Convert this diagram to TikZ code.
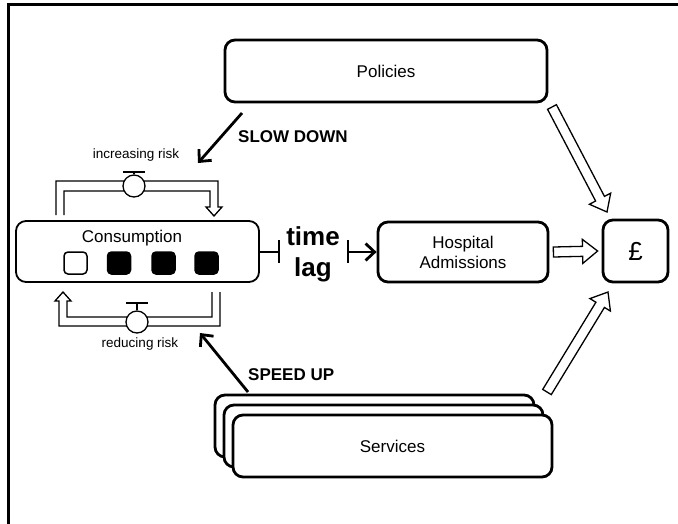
\documentclass[tikz,border=0pt]{standalone}
\usepackage{fontspec}
\setmainfont{Liberation Sans}
\usetikzlibrary{arrows.meta,calc}

\tikzset{
  box/.style={draw, line width=2.8pt, rounded corners=10pt, fill=white, inner sep=0pt},
  cell/.style={draw, line width=1.5pt, rounded corners=4pt, minimum width=23pt, minimum height=22pt, inner sep=0pt, fill=black},
  pipe/.style={draw, line width=1.3pt, line join=miter},
  valve/.style={circle, draw, fill=white, line width=1.3pt, minimum size=22pt, inner sep=0pt},
  hollow/.style={draw, line width=1.3pt, fill=white, line join=miter},
  push/.style={line width=2.8pt, -{Straight Barb[length=9pt,width=17pt]}},
  lbl/.style={font=\fontsize{17}{20}\selectfont, align=center},
  small/.style={font=\fontsize{13.5}{16}\selectfont, inner sep=0pt},
  loud/.style={font=\bfseries\fontsize{17}{20}\selectfont, inner sep=0pt},
}

% open block arrow from #1 to #2
\newcommand\hollowarrow[2]{%
  \path[hollow] let \p1=($(#2)-(#1)$), \n1={atan2(\y1,\x1)}, \n2={veclen(\x1,\y1)} in
    {[shift={(#1)}, rotate=\n1]
     (0,-5) -- (\n2-15,-5) -- (\n2-15,-12) -- (\n2,0) -- (\n2-15,12) -- (\n2-15,5) -- (0,5) -- cycle};
}

\begin{document}
\begin{tikzpicture}[x=1pt,y=-1pt]
\useasboundingbox (0,0) rectangle (678,523);

% frame
\draw[line width=2.6pt] (8.5,530) -- (8.5,4.5) -- (690,4.5);

% policies
\node[box, lbl, minimum width=322pt, minimum height=62pt] (pol) at (386,71) {Policies};

% consumption with its four units
\node[box, line width=1.8pt, minimum width=243pt, minimum height=61pt] (cons) at (137.5,251.5) {};
\node[lbl, inner sep=0pt] (constext) at (132,238) {Consumption};
\node[cell, fill=white] (c1) at (75.5,263) {};
\node[cell] (c2) at (119,263) {};
\node[cell] (c3) at (163.5,263) {};
\node[cell] (c4) at (206.5,263) {};

% increasing-risk loop
\draw[pipe] (56,215) -- (56,181) -- (218,181) -- (218,207) -- (222,207) -- (214,216)
  -- (206,207) -- (210,207) -- (210,191) -- (64,191) -- (64,215);
\node[valve] (vup) at (134,186) {};
\coordinate (vupbar) at (134,172);
\draw[pipe] (vup.north) -- (vupbar);
\draw[pipe] ($(vupbar)+(-11,0)$) -- ($(vupbar)+(11,0)$);
\node[small] (uptext) at (136,155) {increasing risk};

% reducing-risk loop
\draw[pipe] (220,292) -- (220,326) -- (59,326) -- (59,301) -- (55,301) -- (63,292)
  -- (71,301) -- (67,301) -- (67,317) -- (212,317) -- (212,292);
\node[valve] (vdown) at (137,322) {};
\coordinate (vdownbar) at (137,303);
\draw[pipe] (vdown.north) -- (vdownbar);
\draw[pipe] ($(vdownbar)+(-11,0)$) -- ($(vdownbar)+(11,0)$);
\node[small] (downtext) at (140,344) {reducing risk};

% slow down / speed up
\coordinate (sdtail) at (242,113);
\coordinate (sdtip) at (198,163);
\draw[push] (sdtail) -- (sdtip);
\node[loud, anchor=west] (sdtext) at (238,137) {SLOW DOWN};

\coordinate (sutail) at (248,392);
\coordinate (sutip) at (200,333);
\draw[push] (sutail) -- (sutip);
\node[loud, anchor=west] (sutext) at (248,375) {SPEED UP};

% hospital admissions and cost
\node[box, lbl, minimum width=170pt, minimum height=60pt] (hosp) at (463,252) {Hospital\\Admissions};
\node[box, font=\fontsize{26}{30}\selectfont, minimum width=65pt, minimum height=62pt] (gbp) at (635.5,251) {£};

% time lag
\coordinate (lagL) at (279,252);
\coordinate (lagR) at (348,252);
\draw[line width=2.6pt] (cons.east |- lagL) -- (lagL);
\draw[line width=1.3pt] ($(lagL)+(0,-12)$) -- ($(lagL)+(0,11)$);
\draw[line width=1.3pt] ($(lagR)+(0,-12)$) -- ($(lagR)+(0,11)$);
\draw[push] (lagR) -- (hosp.west);
\node[font=\bfseries\fontsize{26}{31}\selectfont, align=center, inner sep=0pt] (lag) at (313,254) {time\\lag};

% services (stacked)
\node[box, minimum width=319pt, minimum height=62pt] (svc3) at (374.5,426) {};
\node[box, minimum width=319pt, minimum height=62pt] (svc2) at (383.5,436) {};
\node[box, lbl, minimum width=319pt, minimum height=62pt] (svc1) at (392.5,446) {Services};

% block arrows into cost
\coordinate (p2gtail) at (552,107);
\coordinate (p2gtip) at (607,212);
\hollowarrow{p2gtail}{p2gtip}
\coordinate (h2gtail) at ($(hosp.east)+(4,0)$);
\coordinate (h2gtip) at ($(gbp.west)+(-4,0)$);
\hollowarrow{h2gtail}{h2gtip}
\coordinate (s2gtail) at (547,392);
\coordinate (s2gtip) at (608,292);
\hollowarrow{s2gtail}{s2gtip}
\end{tikzpicture}
\end{document}
